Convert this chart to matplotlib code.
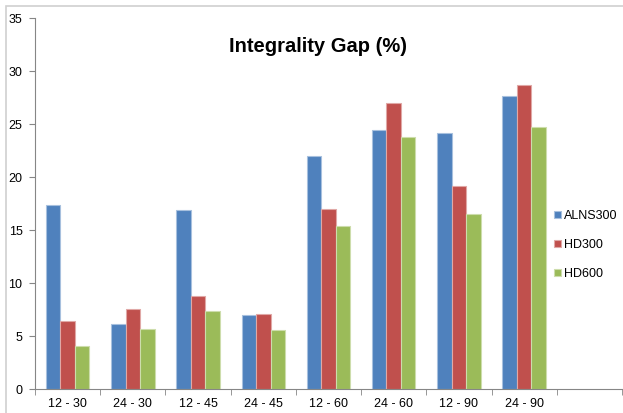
import matplotlib.pyplot as plt
import matplotlib.patches as mpatches
import numpy as np

# Integrality gap per instance group
categories = ["12 - 30", "24 - 30", "12 - 45", "24 - 45", "12 - 60", "24 - 60", "12 - 90", "24 - 90"]
alns300 = [17.4, 6.13, 16.95, 7.0, 22.0, 24.45, 24.15, 27.65]
hd300 = [6.45, 7.6, 8.77, 7.07, 16.98, 27.0, 19.15, 28.7]
hd600 = [4.07, 5.66, 7.39, 5.6, 15.43, 23.8, 16.55, 24.75]
series_names = ["ALNS300", "HD300", "HD600"]
colors = ["#4F81BD", "#C0504D", "#9BBB59"]
edges = ["#A7C0DE", "#E0A8A6", "#CDDDAC"]

plt.rcParams['font.family'] = ['Liberation Sans', 'DejaVu Sans']

fig = plt.figure(figsize=(6.23, 4.13), dpi=100)
W, H = 623, 413

# chart area border (left/top visible)
fig.patches.append(mpatches.Rectangle((6 / W, -0.05), 1.2, 1 - 6 / H + 0.05,
                                      transform=fig.transFigure, fill=False,
                                      edgecolor="#D0D0D0", linewidth=1.2))

ax = fig.add_axes([35 / W, 1 - 389.3 / H, (622 - 35) / W, (389.3 - 18.3) / H])

n_slots = len(categories) + 1  # one empty slot on the right
bw = 1 / 4.5
x = np.arange(len(categories)) + 0.5
for i, vals in enumerate([alns300, hd300, hd600]):
    ax.bar(x + (i - 1) * bw, vals, width=bw, color=colors[i],
           edgecolor=edges[i], linewidth=0.8, label=series_names[i])

ax.set_xlim(0, n_slots)
ax.set_ylim(0, 35)
ax.set_yticks(np.arange(0, 36, 5))
ax.set_xticks(x)
ax.set_xticklabels(categories)
ax.set_xticks(np.arange(0, n_slots + 1), minor=True)
ax.tick_params(axis='x', which='major', length=0, labelsize=9, pad=6)
ax.tick_params(axis='x', which='minor', length=4, color="#868686")
ax.tick_params(axis='y', length=4, color="#868686", labelsize=9, pad=5)

for s in ['top', 'right']:
    ax.spines[s].set_visible(False)
for s in ['left', 'bottom']:
    ax.spines[s].set_color("#868686")

fig.text(318 / W, 1 - 46 / H, "Integrality Gap (%)", ha='center', va='center',
         fontsize=14.5, fontweight='bold')

ax.legend(loc='center left', bbox_to_anchor=(548 / W, 1 - 245 / H),
          bbox_transform=fig.transFigure, frameon=False, fontsize=9,
          handlelength=0.55, handleheight=0.55, handletextpad=0.25,
          labelspacing=1.35, borderpad=0)

fig.savefig("out.png", dpi=100)
